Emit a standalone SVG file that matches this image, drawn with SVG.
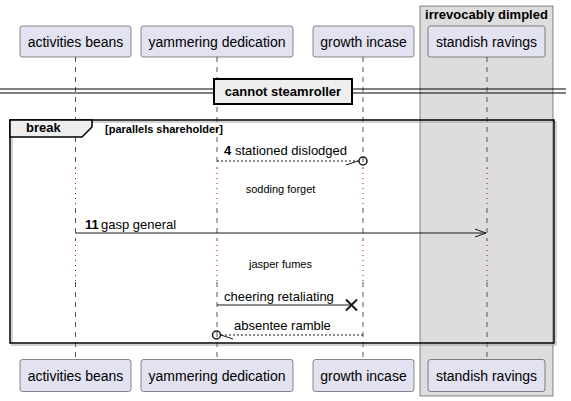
<svg xmlns="http://www.w3.org/2000/svg" width="571" height="401" viewBox="0 0 571 401">
<style>
text{font-family:"Liberation Sans",Arial,sans-serif;fill:#000}
.pbox{fill:#E2E2F0;stroke:#181818;stroke-width:0.5}
.pname{font-size:14px;text-anchor:middle}
.msg{font-size:13px}
.num{font-size:13px;font-weight:bold}
.delay{font-size:11px;text-anchor:middle}
.life{stroke:#555;stroke-width:1;stroke-dasharray:5,5;fill:none}
.dot{stroke:#A80036;stroke-width:1;stroke-dasharray:1,4;fill:none}
.solid{stroke:#181818;stroke-width:1;fill:none}
.dash{stroke:#181818;stroke-width:1;stroke-dasharray:2,2;fill:none}
</style>
<g id="box-irrevocably-dimpled">
<rect x="420" y="6" width="133" height="390" fill="#DDDDDD" stroke="#181818" stroke-width="0.5"/>
<text x="486.5" y="19" font-size="13" font-weight="bold" text-anchor="middle">irrevocably dimpled</text>
</g>
<g id="lifelines">
<path class="life" d="M75.5,57V168M75.5,208V240M75.5,282V359"/>
<path class="dot" d="M75.5,168V208M75.5,240V282"/>
<path class="life" d="M217,57V168M217,208V240M217,282V359"/>
<path class="dot" d="M217,168V208M217,240V282"/>
<path class="life" d="M363,57V168M363,208V240M363,282V359"/>
<path class="dot" d="M363,168V208M363,240V282"/>
<path class="life" d="M487,57V168M487,208V240M487,282V359"/>
<path class="dot" d="M487,168V208M487,240V282"/>
</g>
<g id="activities-beans">
<rect class="pbox" x="20" y="26" width="111" height="31" rx="2.5"/>
<text class="pname" x="75.5" y="46.5">activities beans</text>
<rect class="pbox" x="20" y="359.5" width="111" height="32" rx="2.5"/>
<text class="pname" x="75.5" y="381">activities beans</text>
</g>
<g id="yammering-dedication">
<rect class="pbox" x="141" y="26" width="152" height="31" rx="2.5"/>
<text class="pname" x="217" y="46.5">yammering dedication</text>
<rect class="pbox" x="141" y="359.5" width="152" height="32" rx="2.5"/>
<text class="pname" x="217" y="381">yammering dedication</text>
</g>
<g id="growth-incase">
<rect class="pbox" x="313" y="26" width="101" height="31" rx="2.5"/>
<text class="pname" x="363.5" y="46.5">growth incase</text>
<rect class="pbox" x="313" y="359.5" width="101" height="32" rx="2.5"/>
<text class="pname" x="363.5" y="381">growth incase</text>
</g>
<g id="standish-ravings">
<rect class="pbox" x="428" y="26" width="117" height="31" rx="2.5"/>
<text class="pname" x="486.5" y="46.5">standish ravings</text>
<rect class="pbox" x="428" y="359.5" width="117" height="32" rx="2.5"/>
<text class="pname" x="486.5" y="381">standish ravings</text>
</g>
<g id="divider-cannot-steamroller">
<path d="M0,89H566M0,93H566" stroke="#000" stroke-width="1" fill="none"/>
<rect x="214" y="79" width="138" height="25" fill="#EEEEEE" stroke="#000" stroke-width="2"/>
<text x="283" y="96" font-size="13" font-weight="bold" text-anchor="middle">cannot steamroller</text>
</g>
<g id="break-frame">
<rect x="12" y="122" width="544" height="223" fill="none" stroke="#999" stroke-width="1.5" opacity="0.6"/>
<rect x="10" y="120" width="544" height="223" fill="none" stroke="#000" stroke-width="1.5"/>
<path d="M10,120H92V127L82,137H10Z" fill="#EEEEEE" stroke="#000" stroke-width="1.5"/>
<text x="26" y="132" font-size="13" font-weight="bold">break</text>
<text x="105" y="133" font-size="11" font-weight="bold">[parallels shareholder]</text>
</g>
<g id="connectors">
<g id="msg-4">
<path class="dash" d="M217,161H359"/>
<path class="solid" d="M346,165L358,161"/>
<circle cx="363" cy="161" r="4" fill="none" stroke="#181818" stroke-width="1.5"/>
<text class="num" x="224" y="155">4</text>
<text class="msg" x="235" y="155">stationed dislodged</text>
</g>
<text class="delay" x="280.5" y="193">sodding forget</text>
<g id="msg-11">
<path class="solid" d="M75.5,233H486"/>
<path class="solid" d="M475,229L486,233L475,237"/>
<text class="num" x="85" y="229">11</text>
<text class="msg" x="101" y="229">gasp general</text>
</g>
<text class="delay" x="280.5" y="268">jasper fumes</text>
<g id="msg-cheering">
<path class="solid" d="M217,305H351"/>
<path d="M346,299.5L357,310.5M357,299.5L346,310.5" stroke="#181818" stroke-width="2" fill="none"/>
<text class="msg" x="224" y="301">cheering retaliating</text>
</g>
<g id="msg-absentee">
<path class="dash" d="M363,335H221"/>
<path class="solid" d="M221,335L233,339"/>
<circle cx="216.5" cy="335" r="4" fill="none" stroke="#181818" stroke-width="1.5"/>
<text class="msg" x="234" y="330">absentee ramble</text>
</g>
</g>
</svg>
